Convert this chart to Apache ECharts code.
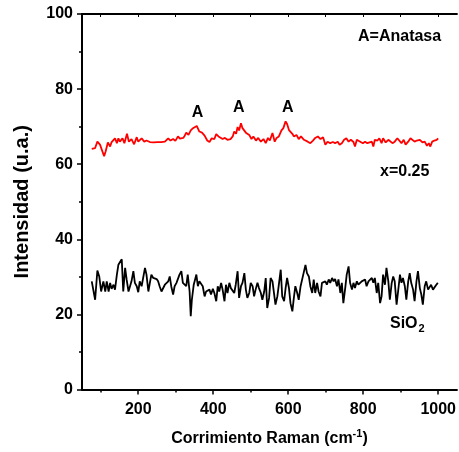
<!DOCTYPE html>
<html>
<head>
<meta charset="utf-8">
<script src="https://cdn.jsdelivr.net/npm/echarts@6/dist/echarts.min.js"></script>
<style>
  html, body { margin: 0; padding: 0; background: #fff; }
  #chart { width: 459px; height: 452px; }
</style>
</head>
<body>
<div id="chart"></div>
<script>
// Raman spectra: [shift (cm-1), intensity (a.u.)]
const sampleX025 = [
  [76,64.1],[85,64.3],[91,66.0],[98,65.2],[103,65.4],[109,62.1],[113,63.4],[119,65.8],[125,64.7],[129,65.9],
  [134,65.6],[138,66.9],[143,65.6],[147,66.9],[151,66.0],[158,66.9],[163,65.6],[170,68.1],[175,66.0],[182,66.7],
  [189,65.3],[196,67.2],[200,66.0],[204,66.5],[209,66.9],[216,66.0],[222,66.3],[231,65.9],[236,66.2],[241,65.8],
  [246,66.1],[251,65.9],[256,66.3],[261,65.9],[266,66.2],[271,66.0],[280,66.9],[286,66.3],[293,66.7],[299,66.2],
  [306,67.4],[311,66.8],[315,66.5],[320,67.0],[324,67.6],[328,68.4],[334,67.8],[340,69.0],[346,69.6],[350,69.2],
  [356,70.2],[363,68.7],[370,68.4],[377,67.6],[384,66.3],[390,65.9],[396,66.9],[403,66.7],[408,68.0],[414,67.4],
  [419,67.8],[425,66.7],[431,67.0],[438,66.5],[446,66.7],[452,67.4],[456,68.7],[461,68.1],[465,69.9],[469,69.0],
  [474,70.9],[478,69.6],[483,70.0],[487,68.4],[491,68.1],[496,67.8],[502,66.7],[507,67.4],[514,66.3],[520,67.0],
  [527,66.0],[534,66.7],[540,65.6],[546,67.0],[551,66.3],[558,68.3],[564,66.0],[569,67.0],[575,67.4],[582,69.0],
  [587,69.6],[593,71.4],[597,70.7],[602,69.1],[606,69.6],[611,68.1],[615,67.4],[622,67.8],[628,66.7],[634,67.4],
  [642,66.5],[646,67.0],[652,66.0],[659,65.6],[666,66.3],[672,67.0],[679,67.4],[686,66.7],[693,67.2],[699,65.2],
  [705,66.0],[712,65.6],[719,65.9],[725,65.6],[732,66.0],[737,65.2],[743,65.6],[749,66.5],[755,66.9],[761,66.0],
  [767,66.5],[774,65.9],[778,64.7],[783,66.5],[787,66.9],[792,66.0],[799,65.6],[805,66.0],[811,65.6],[816,65.2],
  [823,66.0],[827,64.7],[831,66.5],[838,66.3],[843,66.9],[849,65.6],[853,66.9],[860,65.8],[867,66.5],[871,66.9],
  [878,65.6],[884,66.0],[891,66.9],[896,66.5],[902,65.6],[908,66.5],[913,65.2],[920,66.0],[926,66.9],[931,66.5],
  [937,66.0],[943,66.3],[951,66.5],[958,65.8],[964,66.0],[970,64.9],[975,65.6],[979,64.7],[984,66.0],[990,66.3],
  [996,66.5],[1000,66.9]
];

const sampleSiO2 = [
  [76,28.8],[81,28.4],[85,23.9],[91,31.7],[96,30.1],[101,26.1],[107,28.8],[112,26.1],[116,28.8],[121,26.1],
  [125,28.4],[129,26.8],[134,27.9],[138,26.6],[143,30.6],[147,33.2],[151,33.7],[156,34.7],[160,26.1],[165,32.4],
  [169,29.3],[174,26.1],[178,25.9],[182,28.8],[187,31.5],[191,28.4],[196,27.5],[200,25.9],[204,28.8],[209,27.5],
  [213,27.0],[218,32.4],[222,30.6],[227,26.1],[231,28.4],[235,30.6],[240,29.7],[244,29.3],[249,29.4],[253,28.8],
  [257,27.5],[262,26.1],[266,25.7],[271,27.9],[275,27.5],[280,28.8],[284,30.1],[288,27.5],[293,25.3],[297,27.5],
  [302,28.4],[306,28.8],[310,30.6],[315,31.5],[319,28.4],[324,28.8],[328,27.5],[332,30.6],[337,26.1],[340,19.5],
  [343,23.9],[348,27.9],[355,30.6],[359,27.5],[363,28.8],[368,29.3],[372,27.5],[377,24.8],[381,26.1],[385,25.7],
  [390,26.6],[394,25.3],[399,26.8],[403,25.7],[408,23.5],[412,27.5],[416,26.1],[421,28.4],[425,26.6],[430,23.5],
  [434,27.9],[438,25.7],[443,28.4],[447,27.0],[452,27.5],[456,25.7],[460,27.9],[465,31.5],[469,24.4],[474,27.5],
  [478,28.4],[483,31.0],[487,26.6],[491,24.4],[496,25.7],[500,28.4],[505,27.5],[509,24.8],[513,26.6],[518,28.4],
  [522,27.0],[527,25.7],[531,23.9],[536,26.1],[540,29.7],[544,21.7],[549,24.4],[553,29.7],[558,28.8],[562,28.4],
  [566,22.6],[571,24.8],[575,27.9],[580,31.9],[584,24.8],[589,23.5],[593,27.0],[597,29.7],[602,27.0],[606,23.0],
  [611,20.8],[615,24.4],[619,27.5],[624,25.7],[628,23.9],[633,27.5],[637,27.9],[641,31.0],[646,33.2],[650,31.0],
  [655,30.1],[659,27.5],[664,25.7],[668,29.3],[672,25.7],[677,28.4],[681,26.1],[686,24.8],[690,28.4],[695,28.4],
  [699,28.8],[703,27.9],[708,29.3],[712,28.4],[717,29.7],[721,28.8],[725,29.4],[730,27.5],[734,29.3],[739,25.7],
  [743,28.4],[747,23.0],[752,27.0],[756,30.6],[761,32.8],[765,28.4],[770,26.6],[774,28.4],[778,27.0],[783,28.8],
  [787,27.9],[792,28.4],[796,28.8],[800,28.4],[805,29.3],[809,27.5],[814,28.8],[818,29.3],[823,29.7],[827,28.4],
  [831,29.7],[836,25.7],[840,28.4],[845,23.0],[849,24.8],[853,30.6],[858,27.9],[862,32.4],[867,28.8],[871,23.9],
  [876,28.4],[880,30.1],[884,28.8],[889,22.6],[893,26.1],[898,30.6],[902,28.4],[906,29.7],[911,27.5],[915,23.9],
  [920,28.8],[924,31.0],[928,28.4],[933,26.6],[937,23.5],[942,28.8],[946,31.5],[951,27.0],[955,25.3],[959,22.6],
  [964,27.5],[968,28.8],[973,26.6],[977,27.0],[981,27.9],[986,26.6],[990,27.0],[995,27.9],[999,28.4]
];

// Anatase band markers: [shift, label height]
const anatasePeaks = [[358, 73.8], [468, 75.0], [599, 75.0]];

const xMajorTicks = [200, 400, 600, 800, 1000];
const xMinorTicks = [100, 300, 500, 700, 900];
const xTopTicks = [100, 200, 300, 400, 500, 600, 700, 800, 900, 1000];

const FONT = '"Liberation Sans", Arial, sans-serif';
const INK = '#000';

const chart = echarts.init(document.getElementById('chart'), null, { renderer: 'canvas' });

const baseX = {
  type: 'value', min: 50, max: 1050, gridIndex: 0,
  splitLine: { show: false },
  axisLine: { show: true, onZero: false, lineStyle: { color: INK, width: 2 } }
};

chart.setOption({
  animation: false,
  backgroundColor: '#fff',
  grid: { left: 82, right: 0, top: 14, bottom: 62, containLabel: false },
  xAxis: [
    Object.assign({}, baseX, {
      position: 'bottom',
      name: '{a|Corrimiento Raman (cm}{s|-1}{a|)}',
      nameLocation: 'middle',
      nameGap: 39,
      nameTextStyle: {
        rich: {
          a: { fontFamily: FONT, fontWeight: 'bold', fontSize: 16, color: INK },
          s: { fontFamily: FONT, fontWeight: 'bold', fontSize: 11, color: INK, verticalAlign: 'top', padding: [0, 0, 10, 0] }
        }
      },
      axisTick: { show: true, inside: false, length: 5, customValues: xMajorTicks, lineStyle: { color: INK, width: 1.5 } },
      axisLabel: {
        show: true, customValues: xMajorTicks, margin: 12,
        formatter: v => String(v),
        fontFamily: FONT, fontWeight: 'bold', fontSize: 16, color: INK
      }
    }),
    Object.assign({}, baseX, {
      position: 'bottom',
      axisLine: { show: false },
      axisTick: { show: true, inside: false, length: 3, customValues: xMinorTicks, lineStyle: { color: INK, width: 1.5 } },
      axisLabel: { show: false }
    }),
    Object.assign({}, baseX, {
      position: 'top',
      axisTick: { show: true, inside: true, length: 3, customValues: xTopTicks, lineStyle: { color: INK, width: 1 } },
      axisLabel: { show: false }
    })
  ],
  yAxis: [{
    type: 'value', min: 0, max: 100, interval: 20,
    position: 'left',
    name: 'Intensidad (u.a.)',
    nameLocation: 'middle',
    nameGap: 50,
    nameTextStyle: { fontFamily: FONT, fontWeight: 'bold', fontSize: 20, color: INK },
    splitLine: { show: false },
    axisLine: { show: true, lineStyle: { color: INK, width: 2 } },
    axisTick: { show: true, inside: false, length: 5, lineStyle: { color: INK, width: 1.5 } },
    minorTick: { show: true, splitNumber: 2, length: 3, lineStyle: { color: INK, width: 1.5 } },
    axisLabel: { margin: 9, fontFamily: FONT, fontWeight: 'bold', fontSize: 16, color: INK }
  }],
  series: [
    {
      name: 'x=0.25', type: 'line', xAxisIndex: 0, yAxisIndex: 0,
      data: sampleX025, showSymbol: false, symbol: 'none',
      lineStyle: { color: '#ff0000', width: 1.8 },
      markPoint: {
        symbol: 'circle',
        symbolSize: 1,
        silent: true,
        itemStyle: { color: 'rgba(0,0,0,0)' },
        data: anatasePeaks.map(p => ({ coord: p, value: 'A' })),
        label: {
          show: true, formatter: 'A', position: 'inside',
          fontFamily: FONT, fontWeight: 'bold', fontSize: 16, color: INK
        }
      }
    },
    {
      name: 'SiO2', type: 'line', xAxisIndex: 0, yAxisIndex: 0,
      data: sampleSiO2, showSymbol: false, symbol: 'none',
      lineStyle: { color: '#000000', width: 1.8 }
    }
  ],
  graphic: [
    {
      type: 'text', left: 358, top: 29,
      style: { text: 'A=Anatasa', font: 'bold 16px ' + FONT, fill: INK }
    },
    {
      type: 'text', left: 380, top: 164,
      style: { text: 'x=0.25', font: 'bold 16px ' + FONT, fill: INK }
    },
    {
      type: 'text', left: 390, top: 316,
      style: {
        text: '{a|SiO}{b|2}',
        rich: {
          a: { font: 'bold 16px ' + FONT, fill: INK },
          b: { font: 'bold 11px ' + FONT, fill: INK, padding: [10, 0, 0, 1] }
        }
      }
    }
  ]
});
</script>
</body>
</html>
